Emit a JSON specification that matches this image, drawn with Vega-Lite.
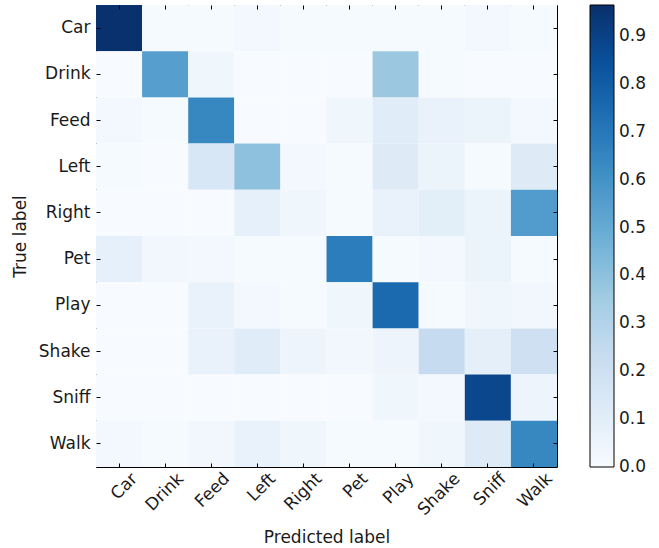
{
  "$schema": "https://vega.github.io/schema/vega-lite/v6.json",
  "autosize": "none",
  "padding": {"left": 96, "top": 5, "right": 102, "bottom": 81},
  "width": 461,
  "height": 462,
  "config": {
    "view": {"stroke": "#000", "strokeWidth": 1},
    "font": "DejaVu Sans",
    "axis": {"labelFont": "DejaVu Sans", "titleFont": "DejaVu Sans", "labelColor": "#1a1a1a", "titleColor": "#1a1a1a", "tickColor": "#000", "domain": false, "grid": false, "titleFontWeight": "normal"},
    "legend": {"labelFont": "DejaVu Sans", "labelColor": "#1a1a1a"}
  },
  "data": {"values": [
    {"t":"Car","p":"Car","v":0.96},{"t":"Car","p":"Drink","v":0.01},{"t":"Car","p":"Feed","v":0.01},{"t":"Car","p":"Left","v":0.02},{"t":"Car","p":"Right","v":0.01},{"t":"Car","p":"Pet","v":0.01},{"t":"Car","p":"Play","v":0.01},{"t":"Car","p":"Shake","v":0.01},{"t":"Car","p":"Sniff","v":0.02},{"t":"Car","p":"Walk","v":0.01},
    {"t":"Drink","p":"Car","v":0.0},{"t":"Drink","p":"Drink","v":0.55},{"t":"Drink","p":"Feed","v":0.04},{"t":"Drink","p":"Left","v":0.0},{"t":"Drink","p":"Right","v":0.0},{"t":"Drink","p":"Pet","v":0.0},{"t":"Drink","p":"Play","v":0.37},{"t":"Drink","p":"Shake","v":0.01},{"t":"Drink","p":"Sniff","v":0.0},{"t":"Drink","p":"Walk","v":0.0},
    {"t":"Feed","p":"Car","v":0.02},{"t":"Feed","p":"Drink","v":0.01},{"t":"Feed","p":"Feed","v":0.64},{"t":"Feed","p":"Left","v":0.0},{"t":"Feed","p":"Right","v":0.0},{"t":"Feed","p":"Pet","v":0.04},{"t":"Feed","p":"Play","v":0.11},{"t":"Feed","p":"Shake","v":0.07},{"t":"Feed","p":"Sniff","v":0.06},{"t":"Feed","p":"Walk","v":0.02},
    {"t":"Left","p":"Car","v":0.01},{"t":"Left","p":"Drink","v":0.0},{"t":"Left","p":"Feed","v":0.15},{"t":"Left","p":"Left","v":0.4},{"t":"Left","p":"Right","v":0.02},{"t":"Left","p":"Pet","v":0.01},{"t":"Left","p":"Play","v":0.12},{"t":"Left","p":"Shake","v":0.06},{"t":"Left","p":"Sniff","v":0.01},{"t":"Left","p":"Walk","v":0.12},
    {"t":"Right","p":"Car","v":0.0},{"t":"Right","p":"Drink","v":0.0},{"t":"Right","p":"Feed","v":0.0},{"t":"Right","p":"Left","v":0.08},{"t":"Right","p":"Right","v":0.04},{"t":"Right","p":"Pet","v":0.01},{"t":"Right","p":"Play","v":0.07},{"t":"Right","p":"Shake","v":0.1},{"t":"Right","p":"Sniff","v":0.06},{"t":"Right","p":"Walk","v":0.56},
    {"t":"Pet","p":"Car","v":0.08},{"t":"Pet","p":"Drink","v":0.03},{"t":"Pet","p":"Feed","v":0.02},{"t":"Pet","p":"Left","v":0.01},{"t":"Pet","p":"Right","v":0.01},{"t":"Pet","p":"Pet","v":0.68},{"t":"Pet","p":"Play","v":0.01},{"t":"Pet","p":"Shake","v":0.02},{"t":"Pet","p":"Sniff","v":0.06},{"t":"Pet","p":"Walk","v":0.01},
    {"t":"Play","p":"Car","v":0.0},{"t":"Play","p":"Drink","v":0.0},{"t":"Play","p":"Feed","v":0.07},{"t":"Play","p":"Left","v":0.02},{"t":"Play","p":"Right","v":0.01},{"t":"Play","p":"Pet","v":0.04},{"t":"Play","p":"Play","v":0.75},{"t":"Play","p":"Shake","v":0.01},{"t":"Play","p":"Sniff","v":0.04},{"t":"Play","p":"Walk","v":0.03},
    {"t":"Shake","p":"Car","v":0.0},{"t":"Shake","p":"Drink","v":0.0},{"t":"Shake","p":"Feed","v":0.07},{"t":"Shake","p":"Left","v":0.11},{"t":"Shake","p":"Right","v":0.05},{"t":"Shake","p":"Pet","v":0.03},{"t":"Shake","p":"Play","v":0.05},{"t":"Shake","p":"Shake","v":0.24},{"t":"Shake","p":"Sniff","v":0.09},{"t":"Shake","p":"Walk","v":0.2},
    {"t":"Sniff","p":"Car","v":0.0},{"t":"Sniff","p":"Drink","v":0.0},{"t":"Sniff","p":"Feed","v":0.0},{"t":"Sniff","p":"Left","v":0.0},{"t":"Sniff","p":"Right","v":0.0},{"t":"Sniff","p":"Pet","v":0.0},{"t":"Sniff","p":"Play","v":0.04},{"t":"Sniff","p":"Shake","v":0.02},{"t":"Sniff","p":"Sniff","v":0.88},{"t":"Sniff","p":"Walk","v":0.05},
    {"t":"Walk","p":"Car","v":0.02},{"t":"Walk","p":"Drink","v":0.01},{"t":"Walk","p":"Feed","v":0.03},{"t":"Walk","p":"Left","v":0.07},{"t":"Walk","p":"Right","v":0.04},{"t":"Walk","p":"Pet","v":0.01},{"t":"Walk","p":"Play","v":0.01},{"t":"Walk","p":"Shake","v":0.04},{"t":"Walk","p":"Sniff","v":0.12},{"t":"Walk","p":"Walk","v":0.64}
  ]},
  "resolve": {"axis": {"x": "independent", "y": "independent"}},
  "layer": [
    {
      "mark": {"type": "rect"},
      "encoding": {
        "x": {"field": "p", "type": "nominal", "sort": ["Car","Drink","Feed","Left","Right","Pet","Play","Shake","Sniff","Walk"], "scale": {"paddingInner": 0, "paddingOuter": 0},
          "axis": {"orient": "bottom", "title": "Predicted label", "labelAngle": -45, "labelAlign": "right", "labelBaseline": "top", "labelFontSize": 17, "titleFontSize": 17, "tickSize": -4, "labelPadding": 7, "labelOffset": 10, "titleY": 70, "titleBaseline": "middle"}},
        "y": {"field": "t", "type": "nominal", "sort": ["Car","Drink","Feed","Left","Right","Pet","Play","Shake","Sniff","Walk"], "scale": {"paddingInner": 0, "paddingOuter": 0},
          "axis": {"orient": "left", "title": "True label", "labelFontSize": 17, "titleFontSize": 17, "tickSize": -4, "labelPadding": 10, "titleX": -76, "titleBaseline": "middle"}},
        "color": {"field": "v", "type": "quantitative",
          "scale": {"domain": [0, 0.120625, 0.24125, 0.361875, 0.4825, 0.603125, 0.72375, 0.844375, 0.965], "range": ["#f7fbff","#deebf7","#c6dbef","#9ecae1","#6baed6","#4292c6","#2171b5","#08519c","#08306b"]},
          "legend": {"title": null, "orient": "right", "offset": 32, "gradientLength": 462, "gradientThickness": 24, "gradientStrokeColor": "#000", "gradientStrokeWidth": 1, "labelFontSize": 17, "labelOffset": 5, "labelBaseline": "middle", "values": [0, 0.1, 0.2, 0.3, 0.4, 0.5, 0.6, 0.7, 0.8, 0.9], "format": ".1f", "labelOverlap": false,
            "encode": {"labels": {"update": {"baseline": {"value": "middle"}}}}}}
      }
    },
    {
      "mark": {"type": "rect", "opacity": 0},
      "encoding": {
        "x": {"field": "p", "type": "nominal", "sort": ["Car","Drink","Feed","Left","Right","Pet","Play","Shake","Sniff","Walk"],
          "axis": {"orient": "top", "title": null, "labels": false, "tickSize": -4}},
        "y": {"field": "t", "type": "nominal", "sort": ["Car","Drink","Feed","Left","Right","Pet","Play","Shake","Sniff","Walk"],
          "axis": {"orient": "right", "title": null, "labels": false, "tickSize": -4}}
      }
    }
  ]
}
